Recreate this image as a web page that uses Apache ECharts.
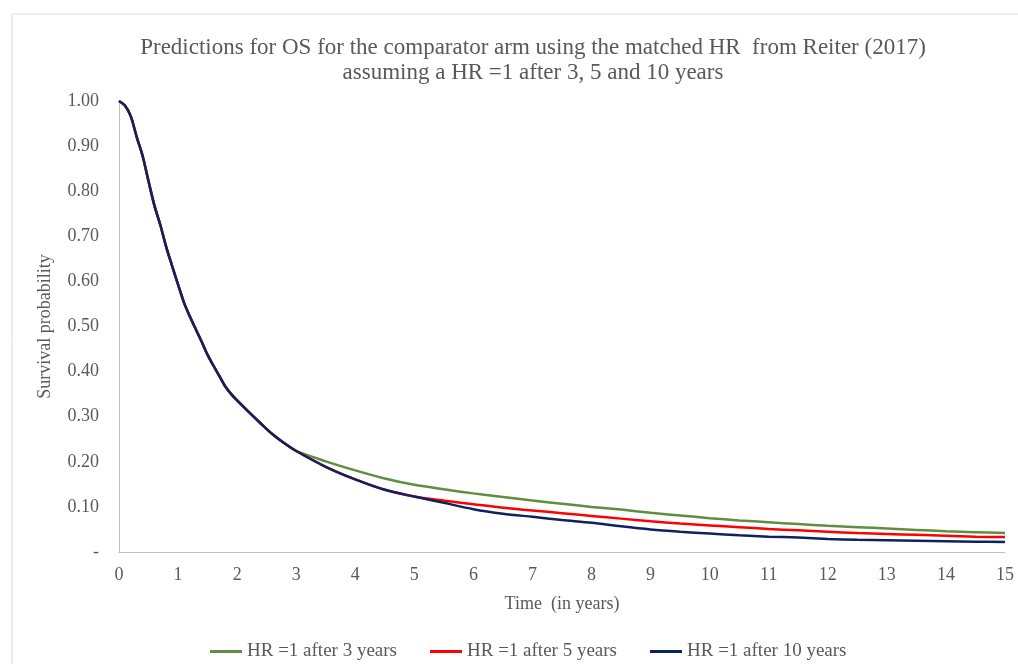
<!DOCTYPE html>
<html>
<head>
<meta charset="utf-8">
<script src="https://cdn.jsdelivr.net/npm/echarts@6/dist/echarts.min.js"></script>
<style>html,body{margin:0;padding:0;background:#fff;}#c{width:1018px;height:664px;}</style>
</head>
<body>
<div id="c"></div>
<script>
// Shared part of the curve (all three scenarios identical up to 3 years)
const tShared = [0,0.1,0.2,0.3,0.4,0.5,0.6,0.7,0.8,0.9,1.0,1.1,1.2,1.3,1.4,1.5,1.6,1.7,1.8,1.9,2.0,2.2,2.4,2.6,2.8,3.0];
const sShared = [1.000,0.990,0.966,0.920,0.878,0.822,0.768,0.725,0.676,0.634,0.593,0.553,0.522,0.494,0.466,0.437,0.413,0.390,0.367,0.350,0.336,0.310,0.285,0.261,0.241,0.224];
// After 3 years
const tLate  = [3.5,4,4.5,5,5.5,6,6.5,7,7.5,8,8.5,9,9.5,10,10.5,11,11.5,12,12.5,13,13.5,14,14.5,15];
const hr3Late  = [0.201,0.181,0.163,0.149,0.139,0.130,0.122,0.114,0.107,0.100,0.094,0.087,0.081,0.075,0.070,0.066,0.062,0.058,0.055,0.052,0.049,0.046,0.044,0.042];
const hr5Late  = [0.189,0.161,0.138,0.123,0.114,0.106,0.098,0.092,0.086,0.080,0.074,0.068,0.063,0.059,0.055,0.051,0.048,0.045,0.042,0.040,0.038,0.036,0.034,0.033];
const hr10Late = [0.189,0.161,0.138,0.123,0.109,0.095,0.085,0.078,0.071,0.065,0.057,0.050,0.045,0.041,0.037,0.034,0.032,0.029,0.027,0.026,0.025,0.024,0.023,0.022];
const seriesNames = ['HR =1 after 3 years','HR =1 after 5 years','HR =1 after 10 years'];
const xTicks = [0,1,2,3,4,5,6,7,8,9,10,11,12,13,14,15];

function build(late){
  const d = tShared.map((t,i)=>[t,sShared[i]]);
  tLate.forEach((t,i)=>d.push([t,late[i]]));
  return d;
}
const font = 'Liberation Serif';
const gray = '#595959';
const colors = ['#5E8E3E','#FF0000','#0F2260'];
const chart = echarts.init(document.getElementById('c'));
chart.setOption({
  animation:false,
  title:{
    text:'Predictions for OS for the comparator arm using the matched HR  from Reiter (2017)\nassuming a HR =1 after 3, 5 and 10 years',
    left:528, top:30, textAlign:'center',
    textStyle:{fontFamily:font,fontSize:23,fontWeight:'normal',color:gray,lineHeight:25}
  },
  graphic:[{type:'rect',shape:{x:12,y:14,width:1030,height:680},style:{fill:'none',stroke:'#d9d9d9',lineWidth:1},silent:true}],
  legend:{
    left:205, top:637, itemWidth:32, itemHeight:3, itemGap:33, icon:'rect',
    textStyle:{fontFamily:font,fontSize:19,color:gray},
    data:seriesNames
  },
  grid:{left:119,right:13,top:101,bottom:112,containLabel:false},
  xAxis:{
    type:'value',min:0,max:15,interval:1,
    name:'Time  (in years)',nameLocation:'middle',nameGap:43,
    nameTextStyle:{fontFamily:font,fontSize:18,color:gray},
    axisLine:{lineStyle:{color:'#bfbfbf',width:1}},
    axisTick:{show:false},splitLine:{show:false},
    axisLabel:{fontFamily:font,fontSize:18,color:gray,margin:14,
      formatter:v=>xTicks.includes(v)?String(v):''}
  },
  yAxis:{
    type:'value',min:0,max:1,interval:0.1,
    name:'Survival probability',nameLocation:'middle',nameGap:65,nameRotate:90,
    nameTextStyle:{fontFamily:font,fontSize:18,color:gray},
    axisLine:{show:true,lineStyle:{color:'#bfbfbf',width:1}},
    axisTick:{show:false},splitLine:{show:false},
    axisLabel:{fontFamily:font,fontSize:18,color:gray,margin:20,
      formatter:v=>v===0?'-':v.toFixed(2)}
  },
  series:[hr3Late,hr5Late,hr10Late].map((late,i)=>({
    name:seriesNames[i],type:'line',data:build(late),smooth:0.3,showSymbol:false,
    lineStyle:{color:colors[i],width:2.5},itemStyle:{color:colors[i]}
  }))
});
</script>
</body>
</html>
